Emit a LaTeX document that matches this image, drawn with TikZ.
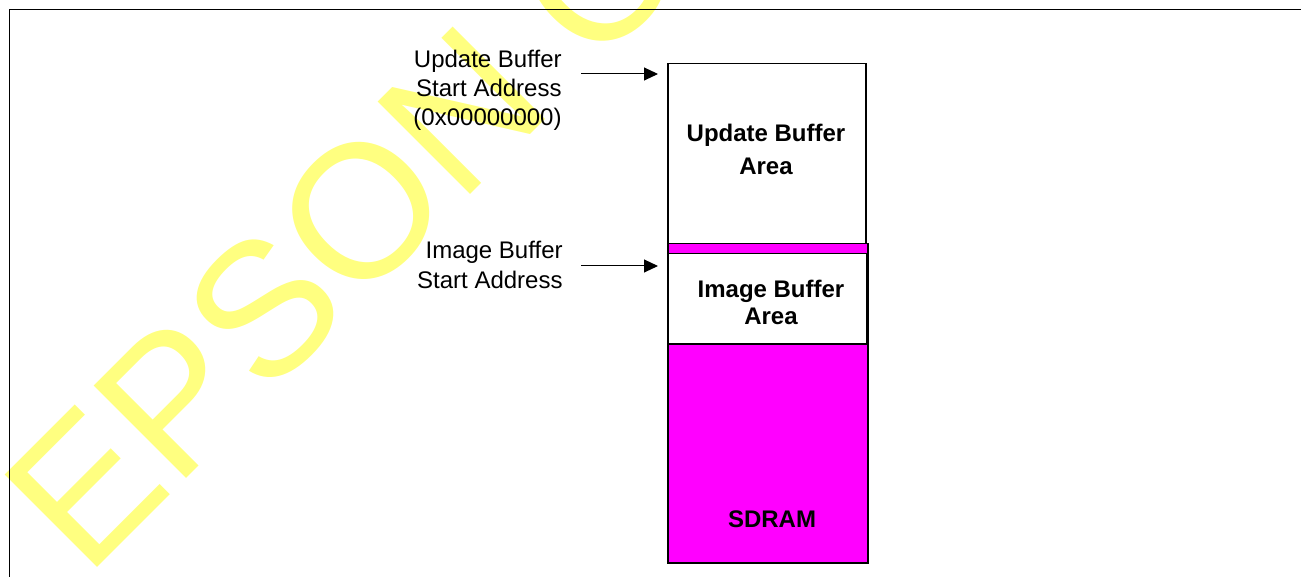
\documentclass[tikz,border=0pt]{standalone}
\usepackage{fontspec}
\setmainfont{Liberation Sans}
\usetikzlibrary{calc, positioning, arrows.meta}
\definecolor{sdrampink}{RGB}{255,0,255}
\definecolor{stampyellow}{RGB}{255,255,128}

\begin{document}
\begin{tikzpicture}[x=0.5pt, y=-0.5pt, node distance=0.5mm,
		area/.style={draw=black, line width=0.75pt, fill=white, anchor=north west, inner sep=0pt},
		title/.style={font=\fontsize{12}{16.5}\selectfont\bfseries, align=center, inner sep=0pt},
		addr/.style={font=\fontsize{12}{14.5}\selectfont, align=right, inner sep=0pt, anchor=east},
		ptr/.style={-{Triangle[length=7pt, width=6.5pt]}, line width=0.5pt, shorten >=4.5pt}]

		\useasboundingbox (0,0) rectangle (1301,577);

		% watermark
		\begin{scope}
			\clip (0,0) rectangle (1301,577);
			\node[stampyellow, rotate=45, anchor=base west, inner sep=0pt,
				font=\fontsize{95}{95}\selectfont] (stamp) at (86,579) {EPSON C};
		\end{scope}

		\draw[line width=0.65pt] (1301,9.5) -- (9.5,9.5) -- (9.5,577);

		% memory column
		\fill[sdrampink] (667,63) rectangle (867,243);
		\node[area, fill=sdrampink, minimum width=100pt, minimum height=159.5pt] (sdram) at (667,243) {};
		\node[area, minimum width=99pt, minimum height=90pt] (upd) at (667,63) {};
		\node[area, minimum width=99.5pt, minimum height=45pt] (img) at (667,253) {};

		\node[title] (updtxt) at (766,149) {Update Buffer\\Area};
		\node[title, font=\fontsize{12}{13.5}\selectfont\bfseries] (imgtxt) at (771,302) {Image Buffer\\Area};
		\node[title] (sdramtxt) at (772,519) {SDRAM};

		% start addresses
		\node[addr] (updaddr) at (562,90) {Update Buffer\\Start Address\\(0x00000000)};
		\node[addr, font=\fontsize{12}{15}\selectfont] (imgaddr) at (563,265) {Image Buffer\\Start Address};

		\coordinate (updtail) at (581,74);
		\coordinate (imgtail) at (581,266);
		\draw[ptr] (updtail) -- (updtail -| upd.west);
		\draw[ptr] (imgtail) -- (imgtail -| img.west);
\end{tikzpicture}
\end{document}
